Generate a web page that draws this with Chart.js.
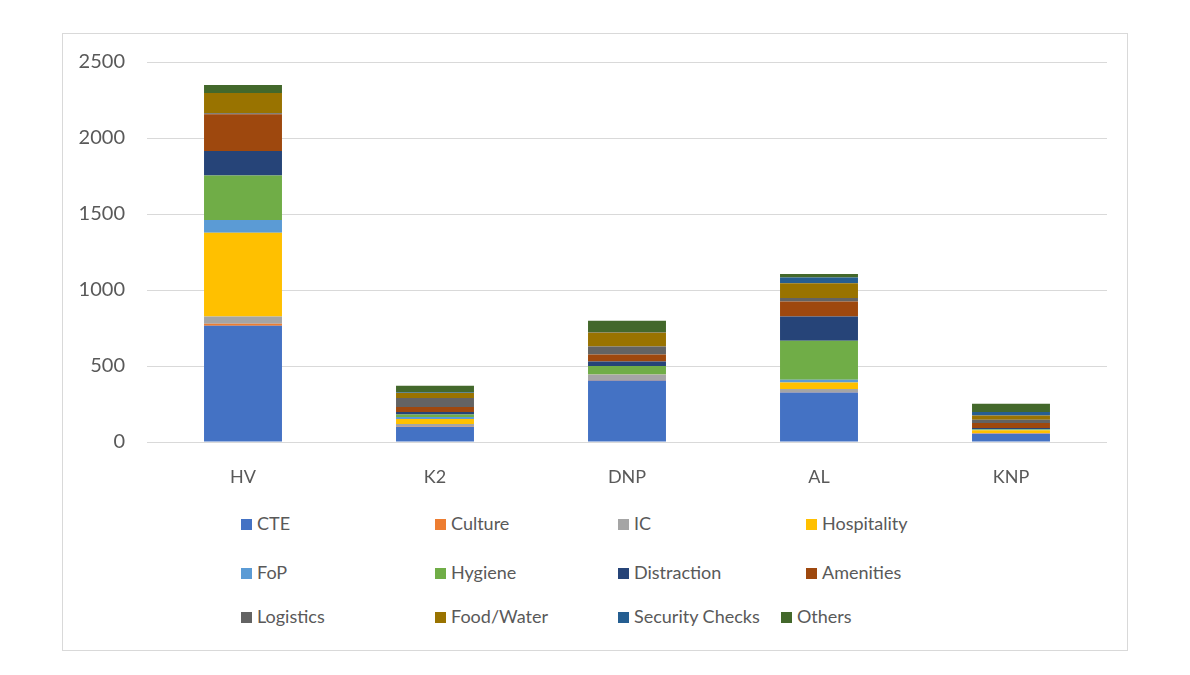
<!DOCTYPE html>
<html>
<head>
<meta charset="utf-8">
<script src="https://cdn.jsdelivr.net/npm/chart.js@4"></script>
<style>
  body { margin: 0; background: #fff; font-family: Lato, sans-serif; }
  #frame { position: absolute; left: 62px; top: 33px; width: 1064px; height: 616px; border: 1px solid #d9d9d9; }
  #wrap { position: absolute; left: 0; top: 0; width: 1190px; height: 500px; }
  #legend { position: absolute; left: 0; top: 0; }
  .item { position: absolute; white-space: nowrap; font-size: 18px; color: #595959; line-height: 20px; }
  .item span.box { display: inline-block; width: 11px; height: 11px; margin-right: 5px; vertical-align: 0px; }
</style>
</head>
<body>
<div id="frame"></div>
<div id="wrap"><canvas id="myChart"></canvas></div>
<div id="legend"></div>
<script>
let places = ['HV', 'K2', 'DNP', 'AL', 'KNP'];

let cte         = [765, 100, 405, 325, 55];
let culture     = [13, 3, 3, 3, 2];
let ic          = [48, 15, 32, 20, 2];
let hospitality = [550, 33, 2, 44, 18];
let fop         = [85, 13, 3, 18, 3];
let hygiene     = [292, 17, 55, 256, 5];
let distraction = [162, 16, 30, 160, 7];
let amenities   = [241, 33, 46, 99, 33];
let logistics   = [7, 59, 53, 22, 22];
let foodWater   = [133, 33, 92, 98, 28];
let security    = [0, 3, 3, 37, 22];
let others      = [53, 45, 73, 24, 55];

let yTicks = [0, 500, 1000, 1500, 2000, 2500];

let seriesNames = ['CTE', 'Culture', 'IC', 'Hospitality', 'FoP', 'Hygiene', 'Distraction',
    'Amenities', 'Logistics', 'Food/Water', 'Security Checks', 'Others'];
let seriesData = [cte, culture, ic, hospitality, fop, hygiene, distraction,
    amenities, logistics, foodWater, security, others];
let COLORS = ['#4472C4', '#ED7D31', '#A5A5A5', '#FFC000', '#5B9BD5', '#70AD47', '#264478',
    '#9E480E', '#636363', '#997300', '#255E91', '#43682B'];

let chartElement = document.getElementById('myChart').getContext('2d');

let myChart = new Chart(chartElement, {
    type: 'bar',
    data: {
        labels: places,
        datasets: seriesNames.map((name, i) => ({
            label: name,
            data: seriesData[i],
            backgroundColor: COLORS[i],
            borderWidth: 0,
            barPercentage: 0.406,
            categoryPercentage: 1
        }))
    },
    options: {
        responsive: true,
        maintainAspectRatio: false,
        animation: false,
        layout: { padding: { left: 0, right: 83, top: 62, bottom: 0 } },
        plugins: { legend: { display: false }, tooltip: { enabled: false } },
        scales: {
            x: {
                stacked: true,
                grid: { display: false },
                border: { display: false },
                ticks: { color: '#595959', font: { family: 'Lato', size: 18 }, padding: 16 },
                afterFit: s => { s.height = 58; }
            },
            y: {
                stacked: true,
                min: 0,
                max: 2500,
                afterBuildTicks: s => { s.ticks = yTicks.map(v => ({ value: v })); },
                grid: { color: '#d9d9d9', drawTicks: false },
                border: { display: false },
                ticks: {
                    color: '#595959',
                    font: { family: 'Lato', size: 20 },
                    padding: 22,
                    callback: v => String(v)
                },
                afterFit: s => { s.width = 147; }
            }
        }
    }
});

// legend laid out in Excel-like columns
const legendPos = [[241, 435, 618, 806], [241, 435, 618, 806], [241, 435, 618, 781]];
const legendRows = [513, 562, 606];
const legend = document.getElementById('legend');
myChart.data.datasets.forEach((ds, i) => {
    const r = Math.floor(i / 4), c = i % 4;
    const el = document.createElement('div');
    el.className = 'item';
    el.style.left = legendPos[r][c] + 'px';
    el.style.top = legendRows[r] + 'px';
    el.innerHTML = '<span class="box" style="background:' + ds.backgroundColor + '"></span>' + ds.label;
    legend.appendChild(el);
});
</script>
</body>
</html>
